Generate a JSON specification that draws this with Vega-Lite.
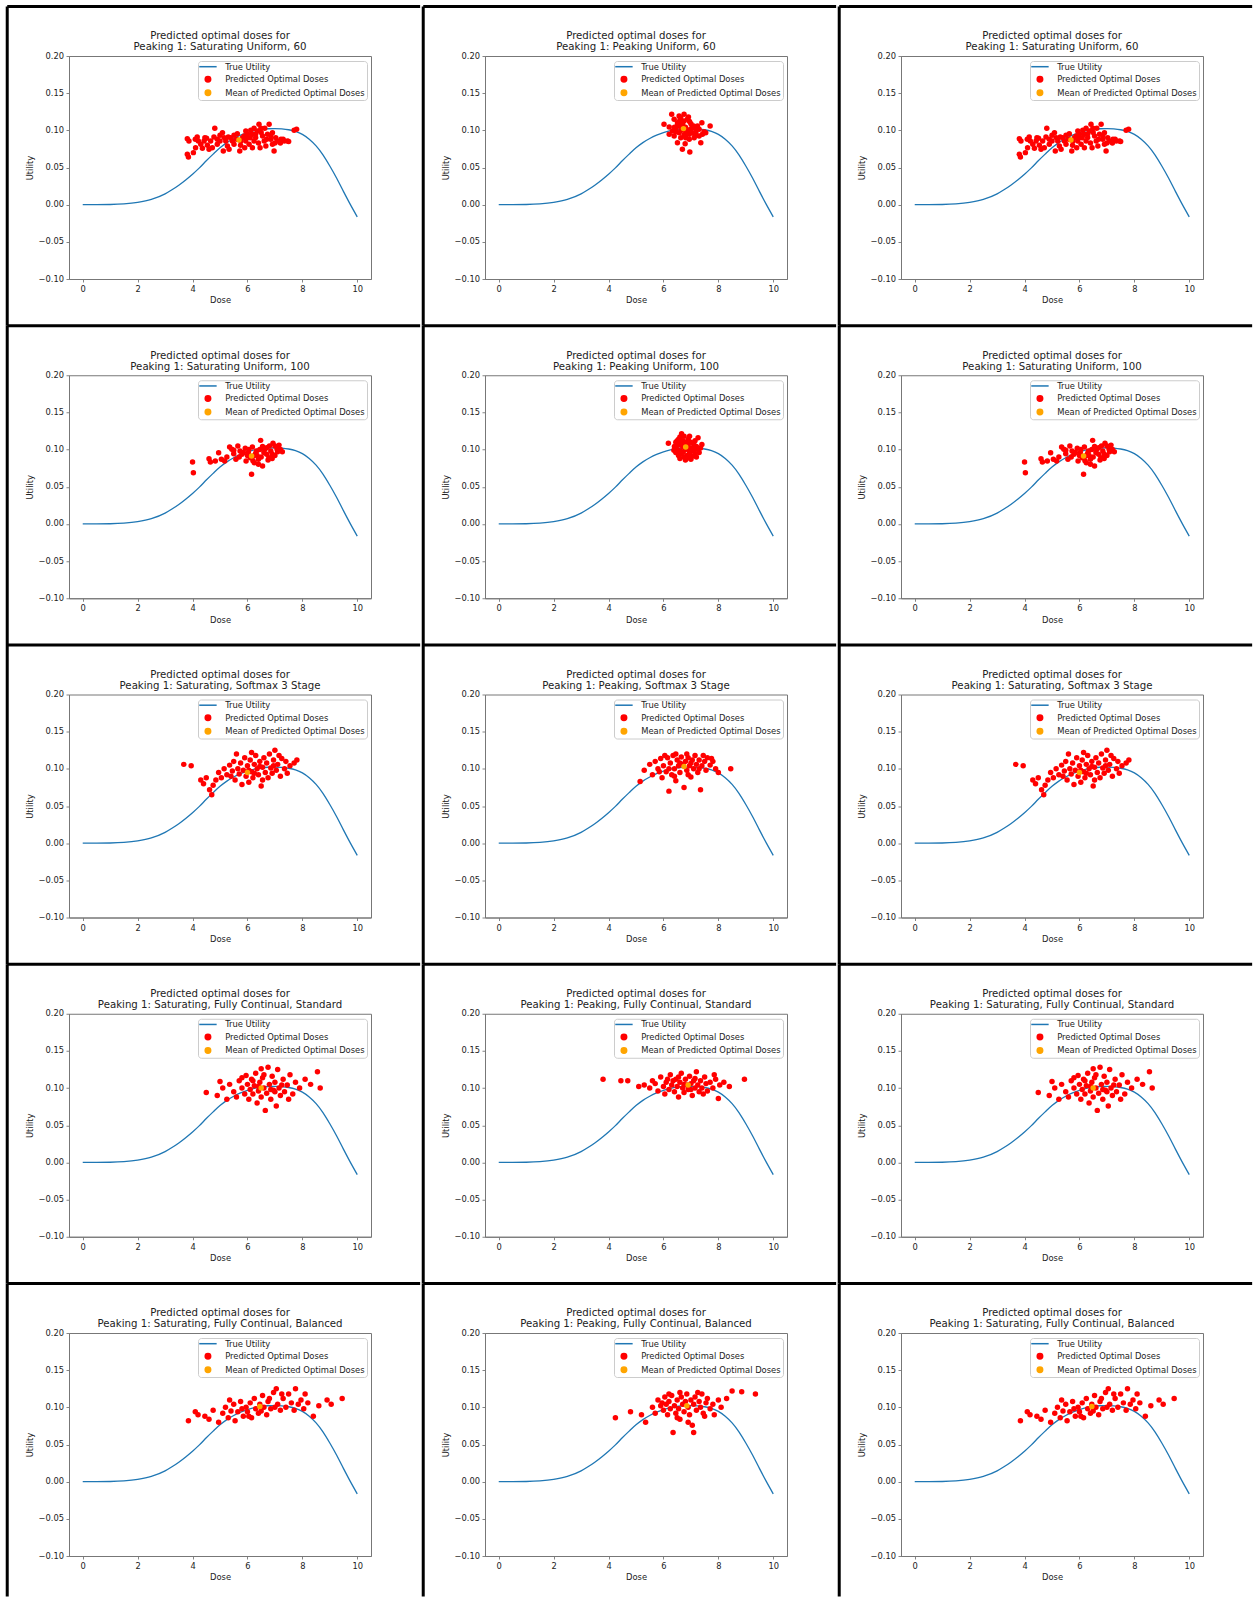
{
"$schema": "https://vega.github.io/schema/vega-lite/v6.json",
"usermeta": {"embedOptions": {"actions": false}},
"background": "white",
"padding": {"left": 5, "top": 4, "right": 0, "bottom": 0},
"columns": 3,
"spacing": {"row": 96.25, "column": 114},
"bounds": "flush",
"resolve": {"scale": {"x": "independent", "y": "independent", "color": "independent"}, "axis": {"x": "independent", "y": "independent"}, "legend": {"color": "independent"}},
"datasets": {
"curve": [{"dose":0,"util":0},{"dose":0.5,"util":0},{"dose":1,"util":0.0002},{"dose":1.5,"util":0.001},{"dose":2,"util":0.003},{"dose":2.5,"util":0.007},{"dose":3,"util":0.0145},{"dose":3.25,"util":0.02},{"dose":3.5,"util":0.0262},{"dose":3.75,"util":0.0333},{"dose":4,"util":0.041},{"dose":4.25,"util":0.0495},{"dose":4.5,"util":0.059},{"dose":4.75,"util":0.068},{"dose":5,"util":0.0765},{"dose":5.25,"util":0.0835},{"dose":5.5,"util":0.089},{"dose":5.75,"util":0.0935},{"dose":6,"util":0.097},{"dose":6.25,"util":0.0995},{"dose":6.5,"util":0.1012},{"dose":6.75,"util":0.1021},{"dose":7,"util":0.1024},{"dose":7.25,"util":0.102},{"dose":7.5,"util":0.1008},{"dose":7.75,"util":0.0985},{"dose":8,"util":0.0945},{"dose":8.25,"util":0.088},{"dose":8.5,"util":0.079},{"dose":8.75,"util":0.067},{"dose":9,"util":0.052},{"dose":9.25,"util":0.0355},{"dose":9.5,"util":0.0175},{"dose":9.75,"util":0},{"dose":10,"util":-0.0165}],
"s1": [{"dose":3.81,"util":0.0888},{"dose":3.87,"util":0.0857},{"dose":3.81,"util":0.0677},{"dose":3.85,"util":0.0642},{"dose":4.03,"util":0.07},{"dose":4.11,"util":0.0767},{"dose":4.17,"util":0.0911},{"dose":4.21,"util":0.0857},{"dose":4.3,"util":0.0812},{"dose":4.36,"util":0.0758},{"dose":4.42,"util":0.0857},{"dose":4.51,"util":0.0893},{"dose":4.54,"util":0.0798},{"dose":4.6,"util":0.0745},{"dose":4.66,"util":0.0857},{"dose":4.72,"util":0.0767},{"dose":4.81,"util":0.1027},{"dose":4.78,"util":0.0911},{"dose":4.9,"util":0.0879},{"dose":5,"util":0.0933},{"dose":5.09,"util":0.0969},{"dose":5.15,"util":0.0902},{"dose":5.21,"util":0.0857},{"dose":5.27,"util":0.0789},{"dose":5.33,"util":0.0745},{"dose":5.39,"util":0.0902},{"dose":5.45,"util":0.0857},{"dose":5.51,"util":0.0812},{"dose":5.63,"util":0.0955},{"dose":5.72,"util":0.0722},{"dose":5.76,"util":0.0857},{"dose":5.82,"util":0.0902},{"dose":5.88,"util":0.0924},{"dose":5.94,"util":0.0857},{"dose":6,"util":0.0902},{"dose":6.06,"util":0.0812},{"dose":6.12,"util":0.1},{"dose":6.18,"util":0.0946},{"dose":6.24,"util":0.0857},{"dose":6.3,"util":0.0902},{"dose":6.36,"util":0.0991},{"dose":6.42,"util":0.1081},{"dose":6.49,"util":0.1027},{"dose":6.55,"util":0.0924},{"dose":6.61,"util":0.0857},{"dose":6.67,"util":0.0789},{"dose":6.73,"util":0.0946},{"dose":6.79,"util":0.1081},{"dose":6.85,"util":0.0879},{"dose":6.91,"util":0.0812},{"dose":6.97,"util":0.0722},{"dose":7.03,"util":0.0902},{"dose":7.09,"util":0.0857},{"dose":7.22,"util":0.0879},{"dose":7.34,"util":0.0857},{"dose":7.46,"util":0.0857},{"dose":7.7,"util":0.1},{"dose":7.79,"util":0.1014},{"dose":6.91,"util":0.0969},{"dose":6.46,"util":0.0767},{"dose":6.18,"util":0.0767},{"dose":5.9,"util":0.0767},{"dose":5.12,"util":0.0722},{"dose":4.9,"util":0.0812},{"dose":5.51,"util":0.0933},{"dose":5.94,"util":0.0991},{"dose":6.24,"util":0.1027},{"dose":6.63,"util":0.1027},{"dose":5,"util":0.0857},{"dose":5.6,"util":0.088},{"dose":6.1,"util":0.09},{"dose":6.4,"util":0.083},{"dose":6.7,"util":0.088},{"dose":7.2,"util":0.083},{"dose":4.45,"util":0.09},{"dose":5.3,"util":0.091},{"dose":6,"util":0.095},{"dose":6.5,"util":0.097},{"dose":7,"util":0.083},{"dose":4.1,"util":0.088},{"dose":5.75,"util":0.08},{"dose":6.3,"util":0.095},{"dose":6.85,"util":0.093},{"dose":7.3,"util":0.088},{"dose":7.5,"util":0.085}],
"m1": [{"dose":5.69,"util":0.087}],
"s2": [{"dose":6.3,"util":0.1215},{"dose":6.57,"util":0.1193},{"dose":6.02,"util":0.1081},{"dose":6.21,"util":0.1045},{"dose":6.39,"util":0.1148},{"dose":6.51,"util":0.1103},{"dose":6.63,"util":0.117},{"dose":6.75,"util":0.1126},{"dose":6.87,"util":0.1148},{"dose":7,"util":0.109},{"dose":6.21,"util":0.0946},{"dose":6.33,"util":0.0991},{"dose":6.45,"util":0.1014},{"dose":6.57,"util":0.0969},{"dose":6.69,"util":0.1036},{"dose":6.81,"util":0.0991},{"dose":6.94,"util":0.0946},{"dose":7.06,"util":0.1036},{"dose":7.18,"util":0.0969},{"dose":7.3,"util":0.1014},{"dose":7.4,"util":0.1103},{"dose":7.42,"util":0.0946},{"dose":7.54,"util":0.0969},{"dose":7.7,"util":0.1058},{"dose":6.63,"util":0.0901},{"dose":6.81,"util":0.0901},{"dose":6.94,"util":0.0879},{"dose":7.12,"util":0.0901},{"dose":6.51,"util":0.0834},{"dose":6.79,"util":0.0821},{"dose":7.36,"util":0.0834},{"dose":6.69,"util":0.0745},{"dose":6.96,"util":0.0709},{"dose":7.3,"util":0.0924},{"dose":7.48,"util":0.0982},{"dose":6.39,"util":0.0924},{"dose":6.57,"util":0.1058},{"dose":6.75,"util":0.1215},{"dose":6.91,"util":0.1179},{"dose":7.06,"util":0.0969},{"dose":7.24,"util":0.1058},{"dose":6.5,"util":0.106},{"dose":6.6,"util":0.11},{"dose":6.7,"util":0.108},{"dose":6.8,"util":0.104},{"dose":6.9,"util":0.1},{"dose":7,"util":0.102},{"dose":6.45,"util":0.098},{"dose":6.65,"util":0.1},{"dose":6.85,"util":0.096},{"dose":7.1,"util":0.106},{"dose":7.2,"util":0.101},{"dose":6.6,"util":0.114},{"dose":6.4,"util":0.104},{"dose":6.95,"util":0.112},{"dose":7.15,"util":0.093},{"dose":6.75,"util":0.094}],
"m2": [{"dose":6.73,"util":0.1023}],
"s4": [{"dose":4,"util":0.0833},{"dose":4.03,"util":0.0689},{"dose":4.6,"util":0.0878},{"dose":4.65,"util":0.0833},{"dose":4.83,"util":0.0846},{"dose":4.95,"util":0.0958},{"dose":5.05,"util":0.0869},{"dose":5.17,"util":0.0846},{"dose":5.25,"util":0.09},{"dose":5.35,"util":0.1035},{"dose":5.43,"util":0.1003},{"dose":5.5,"util":0.0945},{"dose":5.58,"util":0.0869},{"dose":5.65,"util":0.1048},{"dose":5.73,"util":0.0981},{"dose":5.8,"util":0.0936},{"dose":5.92,"util":0.1017},{"dose":6.03,"util":0.0958},{"dose":6.1,"util":0.0891},{"dose":6.15,"util":0.0667},{"dose":6.22,"util":0.0914},{"dose":6.33,"util":0.0981},{"dose":6.4,"util":0.0869},{"dose":6.48,"util":0.1124},{"dose":6.55,"util":0.0779},{"dose":6.63,"util":0.1003},{"dose":6.7,"util":0.0936},{"dose":6.78,"util":0.0891},{"dose":6.85,"util":0.0981},{"dose":6.93,"util":0.1084},{"dose":7,"util":0.1048},{"dose":7.08,"util":0.1003},{"dose":7.27,"util":0.0972},{"dose":6.25,"util":0.0824},{"dose":5.95,"util":0.0846},{"dose":6.4,"util":0.0802},{"dose":6.7,"util":0.1026},{"dose":6.18,"util":0.1035},{"dose":6,"util":0.092},{"dose":6.3,"util":0.095},{"dose":6.5,"util":0.09},{"dose":6.6,"util":0.096},{"dose":6.9,"util":0.094},{"dose":7.1,"util":0.097},{"dose":5.7,"util":0.09},{"dose":6.2,"util":0.085},{"dose":6.45,"util":0.1},{"dose":6.75,"util":0.086},{"dose":7.2,"util":0.1},{"dose":6.05,"util":0.1},{"dose":6.35,"util":0.092},{"dose":6.9,"util":0.088},{"dose":5.85,"util":0.096},{"dose":6.55,"util":0.104},{"dose":7,"util":0.092},{"dose":5.5,"util":0.099},{"dose":6.8,"util":0.105},{"dose":7.15,"util":0.106}],
"m4": [{"dose":6.15,"util":0.0915}],
"s5": [{"dose":6.18,"util":0.1084},{"dose":6.66,"util":0.1214},{"dose":6.75,"util":0.118},{"dose":7.26,"util":0.116},{"dose":6.45,"util":0.11},{"dose":6.55,"util":0.114},{"dose":6.62,"util":0.108},{"dose":6.7,"util":0.112},{"dose":6.8,"util":0.11},{"dose":6.9,"util":0.114},{"dose":7,"util":0.11},{"dose":7.1,"util":0.108},{"dose":7.2,"util":0.104},{"dose":6.4,"util":0.104},{"dose":6.5,"util":0.1},{"dose":6.6,"util":0.098},{"dose":6.7,"util":0.104},{"dose":6.8,"util":0.1},{"dose":6.9,"util":0.106},{"dose":7,"util":0.102},{"dose":7.1,"util":0.098},{"dose":7.25,"util":0.1},{"dose":7.35,"util":0.102},{"dose":6.45,"util":0.096},{"dose":6.55,"util":0.092},{"dose":6.65,"util":0.094},{"dose":6.75,"util":0.09},{"dose":6.85,"util":0.092},{"dose":6.95,"util":0.095},{"dose":7.05,"util":0.091},{"dose":7.15,"util":0.094},{"dose":7.3,"util":0.096},{"dose":6.6,"util":0.088},{"dose":6.8,"util":0.086},{"dose":7,"util":0.087},{"dose":7.2,"util":0.09},{"dose":6.55,"util":0.106},{"dose":6.85,"util":0.108},{"dose":7.15,"util":0.112},{"dose":6.95,"util":0.118},{"dose":6.6,"util":0.117},{"dose":7.4,"util":0.107},{"dose":6.5,"util":0.112},{"dose":6.72,"util":0.097},{"dose":6.95,"util":0.099},{"dose":7.1,"util":0.103},{"dose":6.38,"util":0.099},{"dose":6.9,"util":0.089}],
"m5": [{"dose":6.81,"util":0.1035}],
"s7": [{"dose":3.68,"util":0.106},{"dose":3.95,"util":0.104},{"dose":4.3,"util":0.085},{"dose":4.4,"util":0.08},{"dose":4.5,"util":0.088},{"dose":4.62,"util":0.072},{"dose":4.7,"util":0.065},{"dose":4.75,"util":0.078},{"dose":4.85,"util":0.085},{"dose":4.95,"util":0.095},{"dose":5.05,"util":0.088},{"dose":5.15,"util":0.1},{"dose":5.25,"util":0.092},{"dose":5.35,"util":0.105},{"dose":5.45,"util":0.097},{"dose":5.5,"util":0.11},{"dose":5.55,"util":0.085},{"dose":5.65,"util":0.1},{"dose":5.7,"util":0.093},{"dose":5.75,"util":0.108},{"dose":5.85,"util":0.098},{"dose":5.9,"util":0.115},{"dose":5.95,"util":0.09},{"dose":6,"util":0.104},{"dose":6.05,"util":0.082},{"dose":6.1,"util":0.112},{"dose":6.15,"util":0.096},{"dose":6.2,"util":0.088},{"dose":6.25,"util":0.106},{"dose":6.3,"util":0.118},{"dose":6.35,"util":0.1},{"dose":6.4,"util":0.092},{"dose":6.45,"util":0.11},{"dose":6.5,"util":0.077},{"dose":6.55,"util":0.102},{"dose":6.6,"util":0.115},{"dose":6.65,"util":0.095},{"dose":6.7,"util":0.108},{"dose":6.75,"util":0.088},{"dose":6.8,"util":0.12},{"dose":6.85,"util":0.101},{"dose":6.9,"util":0.094},{"dose":6.95,"util":0.112},{"dose":7,"util":0.125},{"dose":7.05,"util":0.098},{"dose":7.1,"util":0.106},{"dose":7.2,"util":0.09},{"dose":7.25,"util":0.114},{"dose":7.35,"util":0.1},{"dose":7.45,"util":0.094},{"dose":7.55,"util":0.104},{"dose":7.7,"util":0.108},{"dose":7.8,"util":0.112},{"dose":5.6,"util":0.12},{"dose":6.15,"util":0.122},{"dose":6.55,"util":0.085},{"dose":7.15,"util":0.118},{"dose":5.8,"util":0.079},{"dose":6.05,"util":0.098},{"dose":6.45,"util":0.103},{"dose":6.95,"util":0.104},{"dose":5.4,"util":0.09},{"dose":7.4,"util":0.11},{"dose":6.25,"util":0.094}],
"m7": [{"dose":6.0,"util":0.095}],
"s8": [{"dose":5.15,"util":0.083},{"dose":5.3,"util":0.098},{"dose":5.5,"util":0.106},{"dose":5.6,"util":0.092},{"dose":5.7,"util":0.11},{"dose":5.8,"util":0.1},{"dose":5.9,"util":0.114},{"dose":5.95,"util":0.088},{"dose":6,"util":0.104},{"dose":6.1,"util":0.096},{"dose":6.15,"util":0.115},{"dose":6.2,"util":0.07},{"dose":6.25,"util":0.108},{"dose":6.3,"util":0.092},{"dose":6.35,"util":0.118},{"dose":6.4,"util":0.1},{"dose":6.45,"util":0.084},{"dose":6.5,"util":0.112},{"dose":6.55,"util":0.104},{"dose":6.6,"util":0.095},{"dose":6.65,"util":0.116},{"dose":6.7,"util":0.106},{"dose":6.75,"util":0.075},{"dose":6.8,"util":0.11},{"dose":6.85,"util":0.098},{"dose":6.9,"util":0.115},{"dose":6.95,"util":0.104},{"dose":7,"util":0.089},{"dose":7.05,"util":0.112},{"dose":7.1,"util":0.1},{"dose":7.15,"util":0.118},{"dose":7.2,"util":0.106},{"dose":7.25,"util":0.095},{"dose":7.3,"util":0.112},{"dose":7.35,"util":0.072},{"dose":7.4,"util":0.104},{"dose":7.5,"util":0.11},{"dose":7.55,"util":0.098},{"dose":7.6,"util":0.115},{"dose":7.7,"util":0.105},{"dose":7.8,"util":0.11},{"dose":7.9,"util":0.1},{"dose":8,"util":0.095},{"dose":8.45,"util":0.1},{"dose":6.05,"util":0.118},{"dose":6.45,"util":0.12},{"dose":6.85,"util":0.12},{"dose":7.45,"util":0.118},{"dose":6.2,"util":0.1},{"dose":6.6,"util":0.108},{"dose":7,"util":0.108},{"dose":7.3,"util":0.1},{"dose":6.4,"util":0.09},{"dose":6.9,"util":0.092},{"dose":5.85,"util":0.096},{"dose":7.75,"util":0.114}],
"m8": [{"dose":6.75,"util":0.103}],
"s10": [{"dose":4.5,"util":0.094},{"dose":4.9,"util":0.09},{"dose":5,"util":0.109},{"dose":5.1,"util":0.1},{"dose":5.25,"util":0.085},{"dose":5.35,"util":0.105},{"dose":5.5,"util":0.095},{"dose":5.6,"util":0.088},{"dose":5.7,"util":0.11},{"dose":5.8,"util":0.1},{"dose":5.9,"util":0.092},{"dose":5.95,"util":0.117},{"dose":6,"util":0.105},{"dose":6.05,"util":0.085},{"dose":6.1,"util":0.098},{"dose":6.15,"util":0.112},{"dose":6.2,"util":0.092},{"dose":6.25,"util":0.103},{"dose":6.3,"util":0.12},{"dose":6.35,"util":0.08},{"dose":6.4,"util":0.096},{"dose":6.45,"util":0.108},{"dose":6.5,"util":0.088},{"dose":6.55,"util":0.114},{"dose":6.6,"util":0.1},{"dose":6.65,"util":0.07},{"dose":6.7,"util":0.093},{"dose":6.75,"util":0.128},{"dose":6.8,"util":0.105},{"dose":6.85,"util":0.085},{"dose":6.9,"util":0.116},{"dose":6.95,"util":0.097},{"dose":7,"util":0.108},{"dose":7.05,"util":0.076},{"dose":7.1,"util":0.125},{"dose":7.15,"util":0.1},{"dose":7.2,"util":0.09},{"dose":7.3,"util":0.112},{"dose":7.35,"util":0.095},{"dose":7.45,"util":0.104},{"dose":7.55,"util":0.118},{"dose":7.65,"util":0.092},{"dose":7.75,"util":0.108},{"dose":7.9,"util":0.1},{"dose":8.1,"util":0.112},{"dose":8.3,"util":0.105},{"dose":8.55,"util":0.122},{"dose":8.65,"util":0.1},{"dose":6.2,"util":0.11},{"dose":6.6,"util":0.118},{"dose":7,"util":0.095},{"dose":6.4,"util":0.102},{"dose":6.85,"util":0.098},{"dose":7.25,"util":0.104},{"dose":5.8,"util":0.114},{"dose":6.5,"util":0.126},{"dose":7.5,"util":0.085}],
"m10": [{"dose":6.5,"util":0.1}],
"s11": [{"dose":3.8,"util":0.112},{"dose":4.45,"util":0.11},{"dose":4.7,"util":0.11},{"dose":5.1,"util":0.102},{"dose":5.3,"util":0.104},{"dose":5.5,"util":0.1},{"dose":5.7,"util":0.106},{"dose":5.8,"util":0.096},{"dose":5.9,"util":0.115},{"dose":6,"util":0.102},{"dose":6.05,"util":0.092},{"dose":6.1,"util":0.108},{"dose":6.2,"util":0.098},{"dose":6.25,"util":0.118},{"dose":6.3,"util":0.104},{"dose":6.4,"util":0.095},{"dose":6.45,"util":0.112},{"dose":6.5,"util":0.102},{"dose":6.55,"util":0.088},{"dose":6.6,"util":0.108},{"dose":6.65,"util":0.12},{"dose":6.7,"util":0.1},{"dose":6.75,"util":0.094},{"dose":6.8,"util":0.112},{"dose":6.85,"util":0.104},{"dose":6.9,"util":0.098},{"dose":6.95,"util":0.116},{"dose":7,"util":0.106},{"dose":7.05,"util":0.09},{"dose":7.1,"util":0.11},{"dose":7.15,"util":0.1},{"dose":7.2,"util":0.122},{"dose":7.25,"util":0.104},{"dose":7.3,"util":0.095},{"dose":7.35,"util":0.11},{"dose":7.4,"util":0.1},{"dose":7.5,"util":0.115},{"dose":7.55,"util":0.106},{"dose":7.6,"util":0.096},{"dose":7.7,"util":0.108},{"dose":7.8,"util":0.1},{"dose":7.9,"util":0.112},{"dose":8,"util":0.086},{"dose":8.05,"util":0.104},{"dose":8.2,"util":0.108},{"dose":8.4,"util":0.102},{"dose":8.95,"util":0.112},{"dose":6.35,"util":0.11},{"dose":6.75,"util":0.105},{"dose":7.15,"util":0.113},{"dose":6.15,"util":0.112},{"dose":7.45,"util":0.092},{"dose":6.55,"util":0.115},{"dose":7,"util":0.098},{"dose":5.6,"util":0.11},{"dose":7.85,"util":0.118}],
"m11": [{"dose":6.9,"util":0.104}],
"s13": [{"dose":3.85,"util":0.082},{"dose":4.1,"util":0.094},{"dose":4.2,"util":0.09},{"dose":4.45,"util":0.088},{"dose":4.6,"util":0.084},{"dose":4.75,"util":0.096},{"dose":4.95,"util":0.08},{"dose":5.1,"util":0.092},{"dose":5.2,"util":0.1},{"dose":5.3,"util":0.086},{"dose":5.4,"util":0.095},{"dose":5.5,"util":0.104},{"dose":5.55,"util":0.082},{"dose":5.65,"util":0.094},{"dose":5.75,"util":0.108},{"dose":5.85,"util":0.088},{"dose":5.95,"util":0.1},{"dose":6,"util":0.094},{"dose":6.1,"util":0.106},{"dose":6.15,"util":0.086},{"dose":6.25,"util":0.112},{"dose":6.3,"util":0.098},{"dose":6.4,"util":0.092},{"dose":6.45,"util":0.104},{"dose":6.55,"util":0.116},{"dose":6.6,"util":0.1},{"dose":6.7,"util":0.09},{"dose":6.75,"util":0.108},{"dose":6.85,"util":0.098},{"dose":6.95,"util":0.12},{"dose":7.05,"util":0.125},{"dose":7.1,"util":0.104},{"dose":7.2,"util":0.096},{"dose":7.3,"util":0.112},{"dose":7.4,"util":0.1},{"dose":7.5,"util":0.118},{"dose":7.6,"util":0.106},{"dose":7.7,"util":0.096},{"dose":7.75,"util":0.125},{"dose":7.85,"util":0.104},{"dose":7.95,"util":0.11},{"dose":8.05,"util":0.098},{"dose":8.2,"util":0.106},{"dose":8.4,"util":0.088},{"dose":8.6,"util":0.102},{"dose":8.9,"util":0.11},{"dose":9.05,"util":0.104},{"dose":9.45,"util":0.112},{"dose":6.05,"util":0.088},{"dose":6.5,"util":0.095},{"dose":7,"util":0.1},{"dose":5.8,"util":0.098},{"dose":6.8,"util":0.112},{"dose":7.25,"util":0.118},{"dose":8.1,"util":0.118},{"dose":5.35,"util":0.11}],
"m13": [{"dose":6.45,"util":0.101}],
"s14": [{"dose":4.25,"util":0.086},{"dose":4.8,"util":0.094},{"dose":5.2,"util":0.09},{"dose":5.35,"util":0.08},{"dose":5.6,"util":0.1},{"dose":5.7,"util":0.092},{"dose":5.8,"util":0.11},{"dose":5.9,"util":0.102},{"dose":6,"util":0.096},{"dose":6.05,"util":0.114},{"dose":6.1,"util":0.104},{"dose":6.15,"util":0.09},{"dose":6.2,"util":0.108},{"dose":6.25,"util":0.098},{"dose":6.3,"util":0.116},{"dose":6.35,"util":0.066},{"dose":6.4,"util":0.102},{"dose":6.45,"util":0.092},{"dose":6.5,"util":0.11},{"dose":6.55,"util":0.098},{"dose":6.6,"util":0.084},{"dose":6.65,"util":0.114},{"dose":6.7,"util":0.104},{"dose":6.75,"util":0.094},{"dose":6.8,"util":0.108},{"dose":6.85,"util":0.118},{"dose":6.9,"util":0.1},{"dose":6.95,"util":0.09},{"dose":7,"util":0.11},{"dose":7.05,"util":0.076},{"dose":7.1,"util":0.066},{"dose":7.1,"util":0.104},{"dose":7.15,"util":0.114},{"dose":7.2,"util":0.096},{"dose":7.3,"util":0.108},{"dose":7.35,"util":0.1},{"dose":7.4,"util":0.118},{"dose":7.45,"util":0.092},{"dose":7.55,"util":0.106},{"dose":7.6,"util":0.112},{"dose":7.7,"util":0.098},{"dose":7.8,"util":0.104},{"dose":7.85,"util":0.09},{"dose":8,"util":0.11},{"dose":8.1,"util":0.1},{"dose":8.3,"util":0.112},{"dose":8.5,"util":0.122},{"dose":8.85,"util":0.121},{"dose":9.35,"util":0.118},{"dose":6.2,"util":0.118},{"dose":6.6,"util":0.12},{"dose":7.25,"util":0.12},{"dose":6.5,"util":0.086},{"dose":6.9,"util":0.08},{"dose":7.5,"util":0.088},{"dose":5.95,"util":0.106}],
"m14": [{"dose":6.85,"util":0.102}],
"one": [{"k":1}]
},
"concat": [
{"title":{"text":["Predicted optimal doses for","Peaking 1: Saturating Uniform, 60"]},"width":302,"height":223,"layer":[
{"data":{"name":"curve"},"mark":{"type":"line","interpolate":"monotone","strokeWidth":1.3},"encoding":{"x":{"field":"dose","type":"quantitative","title":"Dose","scale":{"domain":[-0.5,10.5],"nice":false,"zero":false},"axis":{"values":[0,2,4,6,8,10],"format":"d"}},"y":{"field":"util","type":"quantitative","title":"Utility","scale":{"domain":[-0.1,0.2],"nice":false,"zero":false},"axis":{"values":[-0.1,-0.05,0,0.05,0.1,0.15,0.2],"format":".2f"}},"color":{"datum":"True Utility","type":"nominal","scale":{"domain":["True Utility","Predicted Optimal Doses","Mean of Predicted Optimal Doses"],"range":["#1f77b4","#ff0000","#ffa500"]},"legend":{"title":null,"encode":{"symbols":{"update":{"shape":{"signal":"datum.value === 'True Utility' ? 'M-1.45,0L1.45,0' : 'circle'"},"size":{"signal":"datum.value === 'True Utility' ? 144 : 30"},"fill":{"signal":"datum.value === 'True Utility' ? 'transparent' : datum.value === 'Predicted Optimal Doses' ? '#ff0000' : '#ffa500'"},"stroke":{"signal":"datum.value === 'True Utility' ? '#1f77b4' : 'transparent'"},"strokeWidth":{"value":1.5},"opacity":{"value":1},"fillOpacity":{"value":1},"strokeOpacity":{"value":1}}}}}}}},
{"data":{"name":"s1"},"mark":{"type":"circle","size":30,"opacity":1},"encoding":{"x":{"field":"dose","type":"quantitative","title":"Dose","scale":{"domain":[-0.5,10.5],"nice":false,"zero":false},"axis":{"values":[0,2,4,6,8,10],"format":"d"}},"y":{"field":"util","type":"quantitative","title":"Utility","scale":{"domain":[-0.1,0.2],"nice":false,"zero":false},"axis":{"values":[-0.1,-0.05,0,0.05,0.1,0.15,0.2],"format":".2f"}},"color":{"datum":"Predicted Optimal Doses","type":"nominal"}}},
{"data":{"name":"m1"},"mark":{"type":"circle","size":30,"opacity":1},"encoding":{"x":{"field":"dose","type":"quantitative","title":"Dose","scale":{"domain":[-0.5,10.5],"nice":false,"zero":false},"axis":{"values":[0,2,4,6,8,10],"format":"d"}},"y":{"field":"util","type":"quantitative","title":"Utility","scale":{"domain":[-0.1,0.2],"nice":false,"zero":false},"axis":{"values":[-0.1,-0.05,0,0.05,0.1,0.15,0.2],"format":".2f"}},"color":{"datum":"Mean of Predicted Optimal Doses","type":"nominal"}}},
{"data":{"name":"one"},"mark":{"type":"rule","color":"#000000","strokeWidth":3,"clip":false},"encoding":{"x":{"datum":-2.75,"type":"quantitative","title":"Dose","scale":{"domain":[-0.5,10.5],"nice":false,"zero":false},"axis":{"values":[0,2,4,6,8,10],"format":"d"}},"y":{"datum":0.2666,"type":"quantitative","title":"Utility","scale":{"domain":[-0.1,0.2],"nice":false,"zero":false},"axis":{"values":[-0.1,-0.05,0,0.05,0.1,0.15,0.2],"format":".2f"}},"y2":{"datum":-0.163}}},
{"data":{"name":"one"},"mark":{"type":"rule","color":"#000000","strokeWidth":3,"clip":false},"encoding":{"x":{"datum":-2.75,"type":"quantitative","title":"Dose","scale":{"domain":[-0.5,10.5],"nice":false,"zero":false},"axis":{"values":[0,2,4,6,8,10],"format":"d"}},"x2":{"datum":12.29},"y":{"datum":0.2666,"type":"quantitative","title":"Utility","scale":{"domain":[-0.1,0.2],"nice":false,"zero":false},"axis":{"values":[-0.1,-0.05,0,0.05,0.1,0.15,0.2],"format":".2f"}}}}
]},
{"title":{"text":["Predicted optimal doses for","Peaking 1: Peaking Uniform, 60"]},"width":302,"height":223,"layer":[
{"data":{"name":"curve"},"mark":{"type":"line","interpolate":"monotone","strokeWidth":1.3},"encoding":{"x":{"field":"dose","type":"quantitative","title":"Dose","scale":{"domain":[-0.5,10.5],"nice":false,"zero":false},"axis":{"values":[0,2,4,6,8,10],"format":"d"}},"y":{"field":"util","type":"quantitative","title":"Utility","scale":{"domain":[-0.1,0.2],"nice":false,"zero":false},"axis":{"values":[-0.1,-0.05,0,0.05,0.1,0.15,0.2],"format":".2f"}},"color":{"datum":"True Utility","type":"nominal","scale":{"domain":["True Utility","Predicted Optimal Doses","Mean of Predicted Optimal Doses"],"range":["#1f77b4","#ff0000","#ffa500"]},"legend":{"title":null,"encode":{"symbols":{"update":{"shape":{"signal":"datum.value === 'True Utility' ? 'M-1.45,0L1.45,0' : 'circle'"},"size":{"signal":"datum.value === 'True Utility' ? 144 : 30"},"fill":{"signal":"datum.value === 'True Utility' ? 'transparent' : datum.value === 'Predicted Optimal Doses' ? '#ff0000' : '#ffa500'"},"stroke":{"signal":"datum.value === 'True Utility' ? '#1f77b4' : 'transparent'"},"strokeWidth":{"value":1.5},"opacity":{"value":1},"fillOpacity":{"value":1},"strokeOpacity":{"value":1}}}}}}}},
{"data":{"name":"s2"},"mark":{"type":"circle","size":30,"opacity":1},"encoding":{"x":{"field":"dose","type":"quantitative","title":"Dose","scale":{"domain":[-0.5,10.5],"nice":false,"zero":false},"axis":{"values":[0,2,4,6,8,10],"format":"d"}},"y":{"field":"util","type":"quantitative","title":"Utility","scale":{"domain":[-0.1,0.2],"nice":false,"zero":false},"axis":{"values":[-0.1,-0.05,0,0.05,0.1,0.15,0.2],"format":".2f"}},"color":{"datum":"Predicted Optimal Doses","type":"nominal"}}},
{"data":{"name":"m2"},"mark":{"type":"circle","size":30,"opacity":1},"encoding":{"x":{"field":"dose","type":"quantitative","title":"Dose","scale":{"domain":[-0.5,10.5],"nice":false,"zero":false},"axis":{"values":[0,2,4,6,8,10],"format":"d"}},"y":{"field":"util","type":"quantitative","title":"Utility","scale":{"domain":[-0.1,0.2],"nice":false,"zero":false},"axis":{"values":[-0.1,-0.05,0,0.05,0.1,0.15,0.2],"format":".2f"}},"color":{"datum":"Mean of Predicted Optimal Doses","type":"nominal"}}},
{"data":{"name":"one"},"mark":{"type":"rule","color":"#000000","strokeWidth":3,"clip":false},"encoding":{"x":{"datum":-2.75,"type":"quantitative","title":"Dose","scale":{"domain":[-0.5,10.5],"nice":false,"zero":false},"axis":{"values":[0,2,4,6,8,10],"format":"d"}},"y":{"datum":0.2666,"type":"quantitative","title":"Utility","scale":{"domain":[-0.1,0.2],"nice":false,"zero":false},"axis":{"values":[-0.1,-0.05,0,0.05,0.1,0.15,0.2],"format":".2f"}},"y2":{"datum":-0.163}}},
{"data":{"name":"one"},"mark":{"type":"rule","color":"#000000","strokeWidth":3,"clip":false},"encoding":{"x":{"datum":-2.75,"type":"quantitative","title":"Dose","scale":{"domain":[-0.5,10.5],"nice":false,"zero":false},"axis":{"values":[0,2,4,6,8,10],"format":"d"}},"x2":{"datum":12.29},"y":{"datum":0.2666,"type":"quantitative","title":"Utility","scale":{"domain":[-0.1,0.2],"nice":false,"zero":false},"axis":{"values":[-0.1,-0.05,0,0.05,0.1,0.15,0.2],"format":".2f"}}}}
]},
{"title":{"text":["Predicted optimal doses for","Peaking 1: Saturating Uniform, 60"]},"width":302,"height":223,"layer":[
{"data":{"name":"curve"},"mark":{"type":"line","interpolate":"monotone","strokeWidth":1.3},"encoding":{"x":{"field":"dose","type":"quantitative","title":"Dose","scale":{"domain":[-0.5,10.5],"nice":false,"zero":false},"axis":{"values":[0,2,4,6,8,10],"format":"d"}},"y":{"field":"util","type":"quantitative","title":"Utility","scale":{"domain":[-0.1,0.2],"nice":false,"zero":false},"axis":{"values":[-0.1,-0.05,0,0.05,0.1,0.15,0.2],"format":".2f"}},"color":{"datum":"True Utility","type":"nominal","scale":{"domain":["True Utility","Predicted Optimal Doses","Mean of Predicted Optimal Doses"],"range":["#1f77b4","#ff0000","#ffa500"]},"legend":{"title":null,"encode":{"symbols":{"update":{"shape":{"signal":"datum.value === 'True Utility' ? 'M-1.45,0L1.45,0' : 'circle'"},"size":{"signal":"datum.value === 'True Utility' ? 144 : 30"},"fill":{"signal":"datum.value === 'True Utility' ? 'transparent' : datum.value === 'Predicted Optimal Doses' ? '#ff0000' : '#ffa500'"},"stroke":{"signal":"datum.value === 'True Utility' ? '#1f77b4' : 'transparent'"},"strokeWidth":{"value":1.5},"opacity":{"value":1},"fillOpacity":{"value":1},"strokeOpacity":{"value":1}}}}}}}},
{"data":{"name":"s1"},"mark":{"type":"circle","size":30,"opacity":1},"encoding":{"x":{"field":"dose","type":"quantitative","title":"Dose","scale":{"domain":[-0.5,10.5],"nice":false,"zero":false},"axis":{"values":[0,2,4,6,8,10],"format":"d"}},"y":{"field":"util","type":"quantitative","title":"Utility","scale":{"domain":[-0.1,0.2],"nice":false,"zero":false},"axis":{"values":[-0.1,-0.05,0,0.05,0.1,0.15,0.2],"format":".2f"}},"color":{"datum":"Predicted Optimal Doses","type":"nominal"}}},
{"data":{"name":"m1"},"mark":{"type":"circle","size":30,"opacity":1},"encoding":{"x":{"field":"dose","type":"quantitative","title":"Dose","scale":{"domain":[-0.5,10.5],"nice":false,"zero":false},"axis":{"values":[0,2,4,6,8,10],"format":"d"}},"y":{"field":"util","type":"quantitative","title":"Utility","scale":{"domain":[-0.1,0.2],"nice":false,"zero":false},"axis":{"values":[-0.1,-0.05,0,0.05,0.1,0.15,0.2],"format":".2f"}},"color":{"datum":"Mean of Predicted Optimal Doses","type":"nominal"}}},
{"data":{"name":"one"},"mark":{"type":"rule","color":"#000000","strokeWidth":3,"clip":false},"encoding":{"x":{"datum":-2.75,"type":"quantitative","title":"Dose","scale":{"domain":[-0.5,10.5],"nice":false,"zero":false},"axis":{"values":[0,2,4,6,8,10],"format":"d"}},"y":{"datum":0.2666,"type":"quantitative","title":"Utility","scale":{"domain":[-0.1,0.2],"nice":false,"zero":false},"axis":{"values":[-0.1,-0.05,0,0.05,0.1,0.15,0.2],"format":".2f"}},"y2":{"datum":-0.163}}},
{"data":{"name":"one"},"mark":{"type":"rule","color":"#000000","strokeWidth":3,"clip":false},"encoding":{"x":{"datum":-2.75,"type":"quantitative","title":"Dose","scale":{"domain":[-0.5,10.5],"nice":false,"zero":false},"axis":{"values":[0,2,4,6,8,10],"format":"d"}},"x2":{"datum":12.29},"y":{"datum":0.2666,"type":"quantitative","title":"Utility","scale":{"domain":[-0.1,0.2],"nice":false,"zero":false},"axis":{"values":[-0.1,-0.05,0,0.05,0.1,0.15,0.2],"format":".2f"}}}}
]},
{"title":{"text":["Predicted optimal doses for","Peaking 1: Saturating Uniform, 100"]},"width":302,"height":223,"layer":[
{"data":{"name":"curve"},"mark":{"type":"line","interpolate":"monotone","strokeWidth":1.3},"encoding":{"x":{"field":"dose","type":"quantitative","title":"Dose","scale":{"domain":[-0.5,10.5],"nice":false,"zero":false},"axis":{"values":[0,2,4,6,8,10],"format":"d"}},"y":{"field":"util","type":"quantitative","title":"Utility","scale":{"domain":[-0.1,0.2],"nice":false,"zero":false},"axis":{"values":[-0.1,-0.05,0,0.05,0.1,0.15,0.2],"format":".2f"}},"color":{"datum":"True Utility","type":"nominal","scale":{"domain":["True Utility","Predicted Optimal Doses","Mean of Predicted Optimal Doses"],"range":["#1f77b4","#ff0000","#ffa500"]},"legend":{"title":null,"encode":{"symbols":{"update":{"shape":{"signal":"datum.value === 'True Utility' ? 'M-1.45,0L1.45,0' : 'circle'"},"size":{"signal":"datum.value === 'True Utility' ? 144 : 30"},"fill":{"signal":"datum.value === 'True Utility' ? 'transparent' : datum.value === 'Predicted Optimal Doses' ? '#ff0000' : '#ffa500'"},"stroke":{"signal":"datum.value === 'True Utility' ? '#1f77b4' : 'transparent'"},"strokeWidth":{"value":1.5},"opacity":{"value":1},"fillOpacity":{"value":1},"strokeOpacity":{"value":1}}}}}}}},
{"data":{"name":"s4"},"mark":{"type":"circle","size":30,"opacity":1},"encoding":{"x":{"field":"dose","type":"quantitative","title":"Dose","scale":{"domain":[-0.5,10.5],"nice":false,"zero":false},"axis":{"values":[0,2,4,6,8,10],"format":"d"}},"y":{"field":"util","type":"quantitative","title":"Utility","scale":{"domain":[-0.1,0.2],"nice":false,"zero":false},"axis":{"values":[-0.1,-0.05,0,0.05,0.1,0.15,0.2],"format":".2f"}},"color":{"datum":"Predicted Optimal Doses","type":"nominal"}}},
{"data":{"name":"m4"},"mark":{"type":"circle","size":30,"opacity":1},"encoding":{"x":{"field":"dose","type":"quantitative","title":"Dose","scale":{"domain":[-0.5,10.5],"nice":false,"zero":false},"axis":{"values":[0,2,4,6,8,10],"format":"d"}},"y":{"field":"util","type":"quantitative","title":"Utility","scale":{"domain":[-0.1,0.2],"nice":false,"zero":false},"axis":{"values":[-0.1,-0.05,0,0.05,0.1,0.15,0.2],"format":".2f"}},"color":{"datum":"Mean of Predicted Optimal Doses","type":"nominal"}}},
{"data":{"name":"one"},"mark":{"type":"rule","color":"#000000","strokeWidth":3,"clip":false},"encoding":{"x":{"datum":-2.75,"type":"quantitative","title":"Dose","scale":{"domain":[-0.5,10.5],"nice":false,"zero":false},"axis":{"values":[0,2,4,6,8,10],"format":"d"}},"y":{"datum":0.2666,"type":"quantitative","title":"Utility","scale":{"domain":[-0.1,0.2],"nice":false,"zero":false},"axis":{"values":[-0.1,-0.05,0,0.05,0.1,0.15,0.2],"format":".2f"}},"y2":{"datum":-0.163}}},
{"data":{"name":"one"},"mark":{"type":"rule","color":"#000000","strokeWidth":3,"clip":false},"encoding":{"x":{"datum":-2.75,"type":"quantitative","title":"Dose","scale":{"domain":[-0.5,10.5],"nice":false,"zero":false},"axis":{"values":[0,2,4,6,8,10],"format":"d"}},"x2":{"datum":12.29},"y":{"datum":0.2666,"type":"quantitative","title":"Utility","scale":{"domain":[-0.1,0.2],"nice":false,"zero":false},"axis":{"values":[-0.1,-0.05,0,0.05,0.1,0.15,0.2],"format":".2f"}}}}
]},
{"title":{"text":["Predicted optimal doses for","Peaking 1: Peaking Uniform, 100"]},"width":302,"height":223,"layer":[
{"data":{"name":"curve"},"mark":{"type":"line","interpolate":"monotone","strokeWidth":1.3},"encoding":{"x":{"field":"dose","type":"quantitative","title":"Dose","scale":{"domain":[-0.5,10.5],"nice":false,"zero":false},"axis":{"values":[0,2,4,6,8,10],"format":"d"}},"y":{"field":"util","type":"quantitative","title":"Utility","scale":{"domain":[-0.1,0.2],"nice":false,"zero":false},"axis":{"values":[-0.1,-0.05,0,0.05,0.1,0.15,0.2],"format":".2f"}},"color":{"datum":"True Utility","type":"nominal","scale":{"domain":["True Utility","Predicted Optimal Doses","Mean of Predicted Optimal Doses"],"range":["#1f77b4","#ff0000","#ffa500"]},"legend":{"title":null,"encode":{"symbols":{"update":{"shape":{"signal":"datum.value === 'True Utility' ? 'M-1.45,0L1.45,0' : 'circle'"},"size":{"signal":"datum.value === 'True Utility' ? 144 : 30"},"fill":{"signal":"datum.value === 'True Utility' ? 'transparent' : datum.value === 'Predicted Optimal Doses' ? '#ff0000' : '#ffa500'"},"stroke":{"signal":"datum.value === 'True Utility' ? '#1f77b4' : 'transparent'"},"strokeWidth":{"value":1.5},"opacity":{"value":1},"fillOpacity":{"value":1},"strokeOpacity":{"value":1}}}}}}}},
{"data":{"name":"s5"},"mark":{"type":"circle","size":30,"opacity":1},"encoding":{"x":{"field":"dose","type":"quantitative","title":"Dose","scale":{"domain":[-0.5,10.5],"nice":false,"zero":false},"axis":{"values":[0,2,4,6,8,10],"format":"d"}},"y":{"field":"util","type":"quantitative","title":"Utility","scale":{"domain":[-0.1,0.2],"nice":false,"zero":false},"axis":{"values":[-0.1,-0.05,0,0.05,0.1,0.15,0.2],"format":".2f"}},"color":{"datum":"Predicted Optimal Doses","type":"nominal"}}},
{"data":{"name":"m5"},"mark":{"type":"circle","size":30,"opacity":1},"encoding":{"x":{"field":"dose","type":"quantitative","title":"Dose","scale":{"domain":[-0.5,10.5],"nice":false,"zero":false},"axis":{"values":[0,2,4,6,8,10],"format":"d"}},"y":{"field":"util","type":"quantitative","title":"Utility","scale":{"domain":[-0.1,0.2],"nice":false,"zero":false},"axis":{"values":[-0.1,-0.05,0,0.05,0.1,0.15,0.2],"format":".2f"}},"color":{"datum":"Mean of Predicted Optimal Doses","type":"nominal"}}},
{"data":{"name":"one"},"mark":{"type":"rule","color":"#000000","strokeWidth":3,"clip":false},"encoding":{"x":{"datum":-2.75,"type":"quantitative","title":"Dose","scale":{"domain":[-0.5,10.5],"nice":false,"zero":false},"axis":{"values":[0,2,4,6,8,10],"format":"d"}},"y":{"datum":0.2666,"type":"quantitative","title":"Utility","scale":{"domain":[-0.1,0.2],"nice":false,"zero":false},"axis":{"values":[-0.1,-0.05,0,0.05,0.1,0.15,0.2],"format":".2f"}},"y2":{"datum":-0.163}}},
{"data":{"name":"one"},"mark":{"type":"rule","color":"#000000","strokeWidth":3,"clip":false},"encoding":{"x":{"datum":-2.75,"type":"quantitative","title":"Dose","scale":{"domain":[-0.5,10.5],"nice":false,"zero":false},"axis":{"values":[0,2,4,6,8,10],"format":"d"}},"x2":{"datum":12.29},"y":{"datum":0.2666,"type":"quantitative","title":"Utility","scale":{"domain":[-0.1,0.2],"nice":false,"zero":false},"axis":{"values":[-0.1,-0.05,0,0.05,0.1,0.15,0.2],"format":".2f"}}}}
]},
{"title":{"text":["Predicted optimal doses for","Peaking 1: Saturating Uniform, 100"]},"width":302,"height":223,"layer":[
{"data":{"name":"curve"},"mark":{"type":"line","interpolate":"monotone","strokeWidth":1.3},"encoding":{"x":{"field":"dose","type":"quantitative","title":"Dose","scale":{"domain":[-0.5,10.5],"nice":false,"zero":false},"axis":{"values":[0,2,4,6,8,10],"format":"d"}},"y":{"field":"util","type":"quantitative","title":"Utility","scale":{"domain":[-0.1,0.2],"nice":false,"zero":false},"axis":{"values":[-0.1,-0.05,0,0.05,0.1,0.15,0.2],"format":".2f"}},"color":{"datum":"True Utility","type":"nominal","scale":{"domain":["True Utility","Predicted Optimal Doses","Mean of Predicted Optimal Doses"],"range":["#1f77b4","#ff0000","#ffa500"]},"legend":{"title":null,"encode":{"symbols":{"update":{"shape":{"signal":"datum.value === 'True Utility' ? 'M-1.45,0L1.45,0' : 'circle'"},"size":{"signal":"datum.value === 'True Utility' ? 144 : 30"},"fill":{"signal":"datum.value === 'True Utility' ? 'transparent' : datum.value === 'Predicted Optimal Doses' ? '#ff0000' : '#ffa500'"},"stroke":{"signal":"datum.value === 'True Utility' ? '#1f77b4' : 'transparent'"},"strokeWidth":{"value":1.5},"opacity":{"value":1},"fillOpacity":{"value":1},"strokeOpacity":{"value":1}}}}}}}},
{"data":{"name":"s4"},"mark":{"type":"circle","size":30,"opacity":1},"encoding":{"x":{"field":"dose","type":"quantitative","title":"Dose","scale":{"domain":[-0.5,10.5],"nice":false,"zero":false},"axis":{"values":[0,2,4,6,8,10],"format":"d"}},"y":{"field":"util","type":"quantitative","title":"Utility","scale":{"domain":[-0.1,0.2],"nice":false,"zero":false},"axis":{"values":[-0.1,-0.05,0,0.05,0.1,0.15,0.2],"format":".2f"}},"color":{"datum":"Predicted Optimal Doses","type":"nominal"}}},
{"data":{"name":"m4"},"mark":{"type":"circle","size":30,"opacity":1},"encoding":{"x":{"field":"dose","type":"quantitative","title":"Dose","scale":{"domain":[-0.5,10.5],"nice":false,"zero":false},"axis":{"values":[0,2,4,6,8,10],"format":"d"}},"y":{"field":"util","type":"quantitative","title":"Utility","scale":{"domain":[-0.1,0.2],"nice":false,"zero":false},"axis":{"values":[-0.1,-0.05,0,0.05,0.1,0.15,0.2],"format":".2f"}},"color":{"datum":"Mean of Predicted Optimal Doses","type":"nominal"}}},
{"data":{"name":"one"},"mark":{"type":"rule","color":"#000000","strokeWidth":3,"clip":false},"encoding":{"x":{"datum":-2.75,"type":"quantitative","title":"Dose","scale":{"domain":[-0.5,10.5],"nice":false,"zero":false},"axis":{"values":[0,2,4,6,8,10],"format":"d"}},"y":{"datum":0.2666,"type":"quantitative","title":"Utility","scale":{"domain":[-0.1,0.2],"nice":false,"zero":false},"axis":{"values":[-0.1,-0.05,0,0.05,0.1,0.15,0.2],"format":".2f"}},"y2":{"datum":-0.163}}},
{"data":{"name":"one"},"mark":{"type":"rule","color":"#000000","strokeWidth":3,"clip":false},"encoding":{"x":{"datum":-2.75,"type":"quantitative","title":"Dose","scale":{"domain":[-0.5,10.5],"nice":false,"zero":false},"axis":{"values":[0,2,4,6,8,10],"format":"d"}},"x2":{"datum":12.29},"y":{"datum":0.2666,"type":"quantitative","title":"Utility","scale":{"domain":[-0.1,0.2],"nice":false,"zero":false},"axis":{"values":[-0.1,-0.05,0,0.05,0.1,0.15,0.2],"format":".2f"}}}}
]},
{"title":{"text":["Predicted optimal doses for","Peaking 1: Saturating, Softmax 3 Stage"]},"width":302,"height":223,"layer":[
{"data":{"name":"curve"},"mark":{"type":"line","interpolate":"monotone","strokeWidth":1.3},"encoding":{"x":{"field":"dose","type":"quantitative","title":"Dose","scale":{"domain":[-0.5,10.5],"nice":false,"zero":false},"axis":{"values":[0,2,4,6,8,10],"format":"d"}},"y":{"field":"util","type":"quantitative","title":"Utility","scale":{"domain":[-0.1,0.2],"nice":false,"zero":false},"axis":{"values":[-0.1,-0.05,0,0.05,0.1,0.15,0.2],"format":".2f"}},"color":{"datum":"True Utility","type":"nominal","scale":{"domain":["True Utility","Predicted Optimal Doses","Mean of Predicted Optimal Doses"],"range":["#1f77b4","#ff0000","#ffa500"]},"legend":{"title":null,"encode":{"symbols":{"update":{"shape":{"signal":"datum.value === 'True Utility' ? 'M-1.45,0L1.45,0' : 'circle'"},"size":{"signal":"datum.value === 'True Utility' ? 144 : 30"},"fill":{"signal":"datum.value === 'True Utility' ? 'transparent' : datum.value === 'Predicted Optimal Doses' ? '#ff0000' : '#ffa500'"},"stroke":{"signal":"datum.value === 'True Utility' ? '#1f77b4' : 'transparent'"},"strokeWidth":{"value":1.5},"opacity":{"value":1},"fillOpacity":{"value":1},"strokeOpacity":{"value":1}}}}}}}},
{"data":{"name":"s7"},"mark":{"type":"circle","size":30,"opacity":1},"encoding":{"x":{"field":"dose","type":"quantitative","title":"Dose","scale":{"domain":[-0.5,10.5],"nice":false,"zero":false},"axis":{"values":[0,2,4,6,8,10],"format":"d"}},"y":{"field":"util","type":"quantitative","title":"Utility","scale":{"domain":[-0.1,0.2],"nice":false,"zero":false},"axis":{"values":[-0.1,-0.05,0,0.05,0.1,0.15,0.2],"format":".2f"}},"color":{"datum":"Predicted Optimal Doses","type":"nominal"}}},
{"data":{"name":"m7"},"mark":{"type":"circle","size":30,"opacity":1},"encoding":{"x":{"field":"dose","type":"quantitative","title":"Dose","scale":{"domain":[-0.5,10.5],"nice":false,"zero":false},"axis":{"values":[0,2,4,6,8,10],"format":"d"}},"y":{"field":"util","type":"quantitative","title":"Utility","scale":{"domain":[-0.1,0.2],"nice":false,"zero":false},"axis":{"values":[-0.1,-0.05,0,0.05,0.1,0.15,0.2],"format":".2f"}},"color":{"datum":"Mean of Predicted Optimal Doses","type":"nominal"}}},
{"data":{"name":"one"},"mark":{"type":"rule","color":"#000000","strokeWidth":3,"clip":false},"encoding":{"x":{"datum":-2.75,"type":"quantitative","title":"Dose","scale":{"domain":[-0.5,10.5],"nice":false,"zero":false},"axis":{"values":[0,2,4,6,8,10],"format":"d"}},"y":{"datum":0.2666,"type":"quantitative","title":"Utility","scale":{"domain":[-0.1,0.2],"nice":false,"zero":false},"axis":{"values":[-0.1,-0.05,0,0.05,0.1,0.15,0.2],"format":".2f"}},"y2":{"datum":-0.163}}},
{"data":{"name":"one"},"mark":{"type":"rule","color":"#000000","strokeWidth":3,"clip":false},"encoding":{"x":{"datum":-2.75,"type":"quantitative","title":"Dose","scale":{"domain":[-0.5,10.5],"nice":false,"zero":false},"axis":{"values":[0,2,4,6,8,10],"format":"d"}},"x2":{"datum":12.29},"y":{"datum":0.2666,"type":"quantitative","title":"Utility","scale":{"domain":[-0.1,0.2],"nice":false,"zero":false},"axis":{"values":[-0.1,-0.05,0,0.05,0.1,0.15,0.2],"format":".2f"}}}}
]},
{"title":{"text":["Predicted optimal doses for","Peaking 1: Peaking, Softmax 3 Stage"]},"width":302,"height":223,"layer":[
{"data":{"name":"curve"},"mark":{"type":"line","interpolate":"monotone","strokeWidth":1.3},"encoding":{"x":{"field":"dose","type":"quantitative","title":"Dose","scale":{"domain":[-0.5,10.5],"nice":false,"zero":false},"axis":{"values":[0,2,4,6,8,10],"format":"d"}},"y":{"field":"util","type":"quantitative","title":"Utility","scale":{"domain":[-0.1,0.2],"nice":false,"zero":false},"axis":{"values":[-0.1,-0.05,0,0.05,0.1,0.15,0.2],"format":".2f"}},"color":{"datum":"True Utility","type":"nominal","scale":{"domain":["True Utility","Predicted Optimal Doses","Mean of Predicted Optimal Doses"],"range":["#1f77b4","#ff0000","#ffa500"]},"legend":{"title":null,"encode":{"symbols":{"update":{"shape":{"signal":"datum.value === 'True Utility' ? 'M-1.45,0L1.45,0' : 'circle'"},"size":{"signal":"datum.value === 'True Utility' ? 144 : 30"},"fill":{"signal":"datum.value === 'True Utility' ? 'transparent' : datum.value === 'Predicted Optimal Doses' ? '#ff0000' : '#ffa500'"},"stroke":{"signal":"datum.value === 'True Utility' ? '#1f77b4' : 'transparent'"},"strokeWidth":{"value":1.5},"opacity":{"value":1},"fillOpacity":{"value":1},"strokeOpacity":{"value":1}}}}}}}},
{"data":{"name":"s8"},"mark":{"type":"circle","size":30,"opacity":1},"encoding":{"x":{"field":"dose","type":"quantitative","title":"Dose","scale":{"domain":[-0.5,10.5],"nice":false,"zero":false},"axis":{"values":[0,2,4,6,8,10],"format":"d"}},"y":{"field":"util","type":"quantitative","title":"Utility","scale":{"domain":[-0.1,0.2],"nice":false,"zero":false},"axis":{"values":[-0.1,-0.05,0,0.05,0.1,0.15,0.2],"format":".2f"}},"color":{"datum":"Predicted Optimal Doses","type":"nominal"}}},
{"data":{"name":"m8"},"mark":{"type":"circle","size":30,"opacity":1},"encoding":{"x":{"field":"dose","type":"quantitative","title":"Dose","scale":{"domain":[-0.5,10.5],"nice":false,"zero":false},"axis":{"values":[0,2,4,6,8,10],"format":"d"}},"y":{"field":"util","type":"quantitative","title":"Utility","scale":{"domain":[-0.1,0.2],"nice":false,"zero":false},"axis":{"values":[-0.1,-0.05,0,0.05,0.1,0.15,0.2],"format":".2f"}},"color":{"datum":"Mean of Predicted Optimal Doses","type":"nominal"}}},
{"data":{"name":"one"},"mark":{"type":"rule","color":"#000000","strokeWidth":3,"clip":false},"encoding":{"x":{"datum":-2.75,"type":"quantitative","title":"Dose","scale":{"domain":[-0.5,10.5],"nice":false,"zero":false},"axis":{"values":[0,2,4,6,8,10],"format":"d"}},"y":{"datum":0.2666,"type":"quantitative","title":"Utility","scale":{"domain":[-0.1,0.2],"nice":false,"zero":false},"axis":{"values":[-0.1,-0.05,0,0.05,0.1,0.15,0.2],"format":".2f"}},"y2":{"datum":-0.163}}},
{"data":{"name":"one"},"mark":{"type":"rule","color":"#000000","strokeWidth":3,"clip":false},"encoding":{"x":{"datum":-2.75,"type":"quantitative","title":"Dose","scale":{"domain":[-0.5,10.5],"nice":false,"zero":false},"axis":{"values":[0,2,4,6,8,10],"format":"d"}},"x2":{"datum":12.29},"y":{"datum":0.2666,"type":"quantitative","title":"Utility","scale":{"domain":[-0.1,0.2],"nice":false,"zero":false},"axis":{"values":[-0.1,-0.05,0,0.05,0.1,0.15,0.2],"format":".2f"}}}}
]},
{"title":{"text":["Predicted optimal doses for","Peaking 1: Saturating, Softmax 3 Stage"]},"width":302,"height":223,"layer":[
{"data":{"name":"curve"},"mark":{"type":"line","interpolate":"monotone","strokeWidth":1.3},"encoding":{"x":{"field":"dose","type":"quantitative","title":"Dose","scale":{"domain":[-0.5,10.5],"nice":false,"zero":false},"axis":{"values":[0,2,4,6,8,10],"format":"d"}},"y":{"field":"util","type":"quantitative","title":"Utility","scale":{"domain":[-0.1,0.2],"nice":false,"zero":false},"axis":{"values":[-0.1,-0.05,0,0.05,0.1,0.15,0.2],"format":".2f"}},"color":{"datum":"True Utility","type":"nominal","scale":{"domain":["True Utility","Predicted Optimal Doses","Mean of Predicted Optimal Doses"],"range":["#1f77b4","#ff0000","#ffa500"]},"legend":{"title":null,"encode":{"symbols":{"update":{"shape":{"signal":"datum.value === 'True Utility' ? 'M-1.45,0L1.45,0' : 'circle'"},"size":{"signal":"datum.value === 'True Utility' ? 144 : 30"},"fill":{"signal":"datum.value === 'True Utility' ? 'transparent' : datum.value === 'Predicted Optimal Doses' ? '#ff0000' : '#ffa500'"},"stroke":{"signal":"datum.value === 'True Utility' ? '#1f77b4' : 'transparent'"},"strokeWidth":{"value":1.5},"opacity":{"value":1},"fillOpacity":{"value":1},"strokeOpacity":{"value":1}}}}}}}},
{"data":{"name":"s7"},"mark":{"type":"circle","size":30,"opacity":1},"encoding":{"x":{"field":"dose","type":"quantitative","title":"Dose","scale":{"domain":[-0.5,10.5],"nice":false,"zero":false},"axis":{"values":[0,2,4,6,8,10],"format":"d"}},"y":{"field":"util","type":"quantitative","title":"Utility","scale":{"domain":[-0.1,0.2],"nice":false,"zero":false},"axis":{"values":[-0.1,-0.05,0,0.05,0.1,0.15,0.2],"format":".2f"}},"color":{"datum":"Predicted Optimal Doses","type":"nominal"}}},
{"data":{"name":"m7"},"mark":{"type":"circle","size":30,"opacity":1},"encoding":{"x":{"field":"dose","type":"quantitative","title":"Dose","scale":{"domain":[-0.5,10.5],"nice":false,"zero":false},"axis":{"values":[0,2,4,6,8,10],"format":"d"}},"y":{"field":"util","type":"quantitative","title":"Utility","scale":{"domain":[-0.1,0.2],"nice":false,"zero":false},"axis":{"values":[-0.1,-0.05,0,0.05,0.1,0.15,0.2],"format":".2f"}},"color":{"datum":"Mean of Predicted Optimal Doses","type":"nominal"}}},
{"data":{"name":"one"},"mark":{"type":"rule","color":"#000000","strokeWidth":3,"clip":false},"encoding":{"x":{"datum":-2.75,"type":"quantitative","title":"Dose","scale":{"domain":[-0.5,10.5],"nice":false,"zero":false},"axis":{"values":[0,2,4,6,8,10],"format":"d"}},"y":{"datum":0.2666,"type":"quantitative","title":"Utility","scale":{"domain":[-0.1,0.2],"nice":false,"zero":false},"axis":{"values":[-0.1,-0.05,0,0.05,0.1,0.15,0.2],"format":".2f"}},"y2":{"datum":-0.163}}},
{"data":{"name":"one"},"mark":{"type":"rule","color":"#000000","strokeWidth":3,"clip":false},"encoding":{"x":{"datum":-2.75,"type":"quantitative","title":"Dose","scale":{"domain":[-0.5,10.5],"nice":false,"zero":false},"axis":{"values":[0,2,4,6,8,10],"format":"d"}},"x2":{"datum":12.29},"y":{"datum":0.2666,"type":"quantitative","title":"Utility","scale":{"domain":[-0.1,0.2],"nice":false,"zero":false},"axis":{"values":[-0.1,-0.05,0,0.05,0.1,0.15,0.2],"format":".2f"}}}}
]},
{"title":{"text":["Predicted optimal doses for","Peaking 1: Saturating, Fully Continual, Standard"]},"width":302,"height":223,"layer":[
{"data":{"name":"curve"},"mark":{"type":"line","interpolate":"monotone","strokeWidth":1.3},"encoding":{"x":{"field":"dose","type":"quantitative","title":"Dose","scale":{"domain":[-0.5,10.5],"nice":false,"zero":false},"axis":{"values":[0,2,4,6,8,10],"format":"d"}},"y":{"field":"util","type":"quantitative","title":"Utility","scale":{"domain":[-0.1,0.2],"nice":false,"zero":false},"axis":{"values":[-0.1,-0.05,0,0.05,0.1,0.15,0.2],"format":".2f"}},"color":{"datum":"True Utility","type":"nominal","scale":{"domain":["True Utility","Predicted Optimal Doses","Mean of Predicted Optimal Doses"],"range":["#1f77b4","#ff0000","#ffa500"]},"legend":{"title":null,"encode":{"symbols":{"update":{"shape":{"signal":"datum.value === 'True Utility' ? 'M-1.45,0L1.45,0' : 'circle'"},"size":{"signal":"datum.value === 'True Utility' ? 144 : 30"},"fill":{"signal":"datum.value === 'True Utility' ? 'transparent' : datum.value === 'Predicted Optimal Doses' ? '#ff0000' : '#ffa500'"},"stroke":{"signal":"datum.value === 'True Utility' ? '#1f77b4' : 'transparent'"},"strokeWidth":{"value":1.5},"opacity":{"value":1},"fillOpacity":{"value":1},"strokeOpacity":{"value":1}}}}}}}},
{"data":{"name":"s10"},"mark":{"type":"circle","size":30,"opacity":1},"encoding":{"x":{"field":"dose","type":"quantitative","title":"Dose","scale":{"domain":[-0.5,10.5],"nice":false,"zero":false},"axis":{"values":[0,2,4,6,8,10],"format":"d"}},"y":{"field":"util","type":"quantitative","title":"Utility","scale":{"domain":[-0.1,0.2],"nice":false,"zero":false},"axis":{"values":[-0.1,-0.05,0,0.05,0.1,0.15,0.2],"format":".2f"}},"color":{"datum":"Predicted Optimal Doses","type":"nominal"}}},
{"data":{"name":"m10"},"mark":{"type":"circle","size":30,"opacity":1},"encoding":{"x":{"field":"dose","type":"quantitative","title":"Dose","scale":{"domain":[-0.5,10.5],"nice":false,"zero":false},"axis":{"values":[0,2,4,6,8,10],"format":"d"}},"y":{"field":"util","type":"quantitative","title":"Utility","scale":{"domain":[-0.1,0.2],"nice":false,"zero":false},"axis":{"values":[-0.1,-0.05,0,0.05,0.1,0.15,0.2],"format":".2f"}},"color":{"datum":"Mean of Predicted Optimal Doses","type":"nominal"}}},
{"data":{"name":"one"},"mark":{"type":"rule","color":"#000000","strokeWidth":3,"clip":false},"encoding":{"x":{"datum":-2.75,"type":"quantitative","title":"Dose","scale":{"domain":[-0.5,10.5],"nice":false,"zero":false},"axis":{"values":[0,2,4,6,8,10],"format":"d"}},"y":{"datum":0.2666,"type":"quantitative","title":"Utility","scale":{"domain":[-0.1,0.2],"nice":false,"zero":false},"axis":{"values":[-0.1,-0.05,0,0.05,0.1,0.15,0.2],"format":".2f"}},"y2":{"datum":-0.163}}},
{"data":{"name":"one"},"mark":{"type":"rule","color":"#000000","strokeWidth":3,"clip":false},"encoding":{"x":{"datum":-2.75,"type":"quantitative","title":"Dose","scale":{"domain":[-0.5,10.5],"nice":false,"zero":false},"axis":{"values":[0,2,4,6,8,10],"format":"d"}},"x2":{"datum":12.29},"y":{"datum":0.2666,"type":"quantitative","title":"Utility","scale":{"domain":[-0.1,0.2],"nice":false,"zero":false},"axis":{"values":[-0.1,-0.05,0,0.05,0.1,0.15,0.2],"format":".2f"}}}}
]},
{"title":{"text":["Predicted optimal doses for","Peaking 1: Peaking, Fully Continual, Standard"]},"width":302,"height":223,"layer":[
{"data":{"name":"curve"},"mark":{"type":"line","interpolate":"monotone","strokeWidth":1.3},"encoding":{"x":{"field":"dose","type":"quantitative","title":"Dose","scale":{"domain":[-0.5,10.5],"nice":false,"zero":false},"axis":{"values":[0,2,4,6,8,10],"format":"d"}},"y":{"field":"util","type":"quantitative","title":"Utility","scale":{"domain":[-0.1,0.2],"nice":false,"zero":false},"axis":{"values":[-0.1,-0.05,0,0.05,0.1,0.15,0.2],"format":".2f"}},"color":{"datum":"True Utility","type":"nominal","scale":{"domain":["True Utility","Predicted Optimal Doses","Mean of Predicted Optimal Doses"],"range":["#1f77b4","#ff0000","#ffa500"]},"legend":{"title":null,"encode":{"symbols":{"update":{"shape":{"signal":"datum.value === 'True Utility' ? 'M-1.45,0L1.45,0' : 'circle'"},"size":{"signal":"datum.value === 'True Utility' ? 144 : 30"},"fill":{"signal":"datum.value === 'True Utility' ? 'transparent' : datum.value === 'Predicted Optimal Doses' ? '#ff0000' : '#ffa500'"},"stroke":{"signal":"datum.value === 'True Utility' ? '#1f77b4' : 'transparent'"},"strokeWidth":{"value":1.5},"opacity":{"value":1},"fillOpacity":{"value":1},"strokeOpacity":{"value":1}}}}}}}},
{"data":{"name":"s11"},"mark":{"type":"circle","size":30,"opacity":1},"encoding":{"x":{"field":"dose","type":"quantitative","title":"Dose","scale":{"domain":[-0.5,10.5],"nice":false,"zero":false},"axis":{"values":[0,2,4,6,8,10],"format":"d"}},"y":{"field":"util","type":"quantitative","title":"Utility","scale":{"domain":[-0.1,0.2],"nice":false,"zero":false},"axis":{"values":[-0.1,-0.05,0,0.05,0.1,0.15,0.2],"format":".2f"}},"color":{"datum":"Predicted Optimal Doses","type":"nominal"}}},
{"data":{"name":"m11"},"mark":{"type":"circle","size":30,"opacity":1},"encoding":{"x":{"field":"dose","type":"quantitative","title":"Dose","scale":{"domain":[-0.5,10.5],"nice":false,"zero":false},"axis":{"values":[0,2,4,6,8,10],"format":"d"}},"y":{"field":"util","type":"quantitative","title":"Utility","scale":{"domain":[-0.1,0.2],"nice":false,"zero":false},"axis":{"values":[-0.1,-0.05,0,0.05,0.1,0.15,0.2],"format":".2f"}},"color":{"datum":"Mean of Predicted Optimal Doses","type":"nominal"}}},
{"data":{"name":"one"},"mark":{"type":"rule","color":"#000000","strokeWidth":3,"clip":false},"encoding":{"x":{"datum":-2.75,"type":"quantitative","title":"Dose","scale":{"domain":[-0.5,10.5],"nice":false,"zero":false},"axis":{"values":[0,2,4,6,8,10],"format":"d"}},"y":{"datum":0.2666,"type":"quantitative","title":"Utility","scale":{"domain":[-0.1,0.2],"nice":false,"zero":false},"axis":{"values":[-0.1,-0.05,0,0.05,0.1,0.15,0.2],"format":".2f"}},"y2":{"datum":-0.163}}},
{"data":{"name":"one"},"mark":{"type":"rule","color":"#000000","strokeWidth":3,"clip":false},"encoding":{"x":{"datum":-2.75,"type":"quantitative","title":"Dose","scale":{"domain":[-0.5,10.5],"nice":false,"zero":false},"axis":{"values":[0,2,4,6,8,10],"format":"d"}},"x2":{"datum":12.29},"y":{"datum":0.2666,"type":"quantitative","title":"Utility","scale":{"domain":[-0.1,0.2],"nice":false,"zero":false},"axis":{"values":[-0.1,-0.05,0,0.05,0.1,0.15,0.2],"format":".2f"}}}}
]},
{"title":{"text":["Predicted optimal doses for","Peaking 1: Saturating, Fully Continual, Standard"]},"width":302,"height":223,"layer":[
{"data":{"name":"curve"},"mark":{"type":"line","interpolate":"monotone","strokeWidth":1.3},"encoding":{"x":{"field":"dose","type":"quantitative","title":"Dose","scale":{"domain":[-0.5,10.5],"nice":false,"zero":false},"axis":{"values":[0,2,4,6,8,10],"format":"d"}},"y":{"field":"util","type":"quantitative","title":"Utility","scale":{"domain":[-0.1,0.2],"nice":false,"zero":false},"axis":{"values":[-0.1,-0.05,0,0.05,0.1,0.15,0.2],"format":".2f"}},"color":{"datum":"True Utility","type":"nominal","scale":{"domain":["True Utility","Predicted Optimal Doses","Mean of Predicted Optimal Doses"],"range":["#1f77b4","#ff0000","#ffa500"]},"legend":{"title":null,"encode":{"symbols":{"update":{"shape":{"signal":"datum.value === 'True Utility' ? 'M-1.45,0L1.45,0' : 'circle'"},"size":{"signal":"datum.value === 'True Utility' ? 144 : 30"},"fill":{"signal":"datum.value === 'True Utility' ? 'transparent' : datum.value === 'Predicted Optimal Doses' ? '#ff0000' : '#ffa500'"},"stroke":{"signal":"datum.value === 'True Utility' ? '#1f77b4' : 'transparent'"},"strokeWidth":{"value":1.5},"opacity":{"value":1},"fillOpacity":{"value":1},"strokeOpacity":{"value":1}}}}}}}},
{"data":{"name":"s10"},"mark":{"type":"circle","size":30,"opacity":1},"encoding":{"x":{"field":"dose","type":"quantitative","title":"Dose","scale":{"domain":[-0.5,10.5],"nice":false,"zero":false},"axis":{"values":[0,2,4,6,8,10],"format":"d"}},"y":{"field":"util","type":"quantitative","title":"Utility","scale":{"domain":[-0.1,0.2],"nice":false,"zero":false},"axis":{"values":[-0.1,-0.05,0,0.05,0.1,0.15,0.2],"format":".2f"}},"color":{"datum":"Predicted Optimal Doses","type":"nominal"}}},
{"data":{"name":"m10"},"mark":{"type":"circle","size":30,"opacity":1},"encoding":{"x":{"field":"dose","type":"quantitative","title":"Dose","scale":{"domain":[-0.5,10.5],"nice":false,"zero":false},"axis":{"values":[0,2,4,6,8,10],"format":"d"}},"y":{"field":"util","type":"quantitative","title":"Utility","scale":{"domain":[-0.1,0.2],"nice":false,"zero":false},"axis":{"values":[-0.1,-0.05,0,0.05,0.1,0.15,0.2],"format":".2f"}},"color":{"datum":"Mean of Predicted Optimal Doses","type":"nominal"}}},
{"data":{"name":"one"},"mark":{"type":"rule","color":"#000000","strokeWidth":3,"clip":false},"encoding":{"x":{"datum":-2.75,"type":"quantitative","title":"Dose","scale":{"domain":[-0.5,10.5],"nice":false,"zero":false},"axis":{"values":[0,2,4,6,8,10],"format":"d"}},"y":{"datum":0.2666,"type":"quantitative","title":"Utility","scale":{"domain":[-0.1,0.2],"nice":false,"zero":false},"axis":{"values":[-0.1,-0.05,0,0.05,0.1,0.15,0.2],"format":".2f"}},"y2":{"datum":-0.163}}},
{"data":{"name":"one"},"mark":{"type":"rule","color":"#000000","strokeWidth":3,"clip":false},"encoding":{"x":{"datum":-2.75,"type":"quantitative","title":"Dose","scale":{"domain":[-0.5,10.5],"nice":false,"zero":false},"axis":{"values":[0,2,4,6,8,10],"format":"d"}},"x2":{"datum":12.29},"y":{"datum":0.2666,"type":"quantitative","title":"Utility","scale":{"domain":[-0.1,0.2],"nice":false,"zero":false},"axis":{"values":[-0.1,-0.05,0,0.05,0.1,0.15,0.2],"format":".2f"}}}}
]},
{"title":{"text":["Predicted optimal doses for","Peaking 1: Saturating, Fully Continual, Balanced"]},"width":302,"height":223,"layer":[
{"data":{"name":"curve"},"mark":{"type":"line","interpolate":"monotone","strokeWidth":1.3},"encoding":{"x":{"field":"dose","type":"quantitative","title":"Dose","scale":{"domain":[-0.5,10.5],"nice":false,"zero":false},"axis":{"values":[0,2,4,6,8,10],"format":"d"}},"y":{"field":"util","type":"quantitative","title":"Utility","scale":{"domain":[-0.1,0.2],"nice":false,"zero":false},"axis":{"values":[-0.1,-0.05,0,0.05,0.1,0.15,0.2],"format":".2f"}},"color":{"datum":"True Utility","type":"nominal","scale":{"domain":["True Utility","Predicted Optimal Doses","Mean of Predicted Optimal Doses"],"range":["#1f77b4","#ff0000","#ffa500"]},"legend":{"title":null,"encode":{"symbols":{"update":{"shape":{"signal":"datum.value === 'True Utility' ? 'M-1.45,0L1.45,0' : 'circle'"},"size":{"signal":"datum.value === 'True Utility' ? 144 : 30"},"fill":{"signal":"datum.value === 'True Utility' ? 'transparent' : datum.value === 'Predicted Optimal Doses' ? '#ff0000' : '#ffa500'"},"stroke":{"signal":"datum.value === 'True Utility' ? '#1f77b4' : 'transparent'"},"strokeWidth":{"value":1.5},"opacity":{"value":1},"fillOpacity":{"value":1},"strokeOpacity":{"value":1}}}}}}}},
{"data":{"name":"s13"},"mark":{"type":"circle","size":30,"opacity":1},"encoding":{"x":{"field":"dose","type":"quantitative","title":"Dose","scale":{"domain":[-0.5,10.5],"nice":false,"zero":false},"axis":{"values":[0,2,4,6,8,10],"format":"d"}},"y":{"field":"util","type":"quantitative","title":"Utility","scale":{"domain":[-0.1,0.2],"nice":false,"zero":false},"axis":{"values":[-0.1,-0.05,0,0.05,0.1,0.15,0.2],"format":".2f"}},"color":{"datum":"Predicted Optimal Doses","type":"nominal"}}},
{"data":{"name":"m13"},"mark":{"type":"circle","size":30,"opacity":1},"encoding":{"x":{"field":"dose","type":"quantitative","title":"Dose","scale":{"domain":[-0.5,10.5],"nice":false,"zero":false},"axis":{"values":[0,2,4,6,8,10],"format":"d"}},"y":{"field":"util","type":"quantitative","title":"Utility","scale":{"domain":[-0.1,0.2],"nice":false,"zero":false},"axis":{"values":[-0.1,-0.05,0,0.05,0.1,0.15,0.2],"format":".2f"}},"color":{"datum":"Mean of Predicted Optimal Doses","type":"nominal"}}},
{"data":{"name":"one"},"mark":{"type":"rule","color":"#000000","strokeWidth":3,"clip":false},"encoding":{"x":{"datum":-2.75,"type":"quantitative","title":"Dose","scale":{"domain":[-0.5,10.5],"nice":false,"zero":false},"axis":{"values":[0,2,4,6,8,10],"format":"d"}},"y":{"datum":0.2666,"type":"quantitative","title":"Utility","scale":{"domain":[-0.1,0.2],"nice":false,"zero":false},"axis":{"values":[-0.1,-0.05,0,0.05,0.1,0.15,0.2],"format":".2f"}},"y2":{"datum":-0.1545}}},
{"data":{"name":"one"},"mark":{"type":"rule","color":"#000000","strokeWidth":3,"clip":false},"encoding":{"x":{"datum":-2.75,"type":"quantitative","title":"Dose","scale":{"domain":[-0.5,10.5],"nice":false,"zero":false},"axis":{"values":[0,2,4,6,8,10],"format":"d"}},"x2":{"datum":12.29},"y":{"datum":0.2666,"type":"quantitative","title":"Utility","scale":{"domain":[-0.1,0.2],"nice":false,"zero":false},"axis":{"values":[-0.1,-0.05,0,0.05,0.1,0.15,0.2],"format":".2f"}}}}
]},
{"title":{"text":["Predicted optimal doses for","Peaking 1: Peaking, Fully Continual, Balanced"]},"width":302,"height":223,"layer":[
{"data":{"name":"curve"},"mark":{"type":"line","interpolate":"monotone","strokeWidth":1.3},"encoding":{"x":{"field":"dose","type":"quantitative","title":"Dose","scale":{"domain":[-0.5,10.5],"nice":false,"zero":false},"axis":{"values":[0,2,4,6,8,10],"format":"d"}},"y":{"field":"util","type":"quantitative","title":"Utility","scale":{"domain":[-0.1,0.2],"nice":false,"zero":false},"axis":{"values":[-0.1,-0.05,0,0.05,0.1,0.15,0.2],"format":".2f"}},"color":{"datum":"True Utility","type":"nominal","scale":{"domain":["True Utility","Predicted Optimal Doses","Mean of Predicted Optimal Doses"],"range":["#1f77b4","#ff0000","#ffa500"]},"legend":{"title":null,"encode":{"symbols":{"update":{"shape":{"signal":"datum.value === 'True Utility' ? 'M-1.45,0L1.45,0' : 'circle'"},"size":{"signal":"datum.value === 'True Utility' ? 144 : 30"},"fill":{"signal":"datum.value === 'True Utility' ? 'transparent' : datum.value === 'Predicted Optimal Doses' ? '#ff0000' : '#ffa500'"},"stroke":{"signal":"datum.value === 'True Utility' ? '#1f77b4' : 'transparent'"},"strokeWidth":{"value":1.5},"opacity":{"value":1},"fillOpacity":{"value":1},"strokeOpacity":{"value":1}}}}}}}},
{"data":{"name":"s14"},"mark":{"type":"circle","size":30,"opacity":1},"encoding":{"x":{"field":"dose","type":"quantitative","title":"Dose","scale":{"domain":[-0.5,10.5],"nice":false,"zero":false},"axis":{"values":[0,2,4,6,8,10],"format":"d"}},"y":{"field":"util","type":"quantitative","title":"Utility","scale":{"domain":[-0.1,0.2],"nice":false,"zero":false},"axis":{"values":[-0.1,-0.05,0,0.05,0.1,0.15,0.2],"format":".2f"}},"color":{"datum":"Predicted Optimal Doses","type":"nominal"}}},
{"data":{"name":"m14"},"mark":{"type":"circle","size":30,"opacity":1},"encoding":{"x":{"field":"dose","type":"quantitative","title":"Dose","scale":{"domain":[-0.5,10.5],"nice":false,"zero":false},"axis":{"values":[0,2,4,6,8,10],"format":"d"}},"y":{"field":"util","type":"quantitative","title":"Utility","scale":{"domain":[-0.1,0.2],"nice":false,"zero":false},"axis":{"values":[-0.1,-0.05,0,0.05,0.1,0.15,0.2],"format":".2f"}},"color":{"datum":"Mean of Predicted Optimal Doses","type":"nominal"}}},
{"data":{"name":"one"},"mark":{"type":"rule","color":"#000000","strokeWidth":3,"clip":false},"encoding":{"x":{"datum":-2.75,"type":"quantitative","title":"Dose","scale":{"domain":[-0.5,10.5],"nice":false,"zero":false},"axis":{"values":[0,2,4,6,8,10],"format":"d"}},"y":{"datum":0.2666,"type":"quantitative","title":"Utility","scale":{"domain":[-0.1,0.2],"nice":false,"zero":false},"axis":{"values":[-0.1,-0.05,0,0.05,0.1,0.15,0.2],"format":".2f"}},"y2":{"datum":-0.1545}}},
{"data":{"name":"one"},"mark":{"type":"rule","color":"#000000","strokeWidth":3,"clip":false},"encoding":{"x":{"datum":-2.75,"type":"quantitative","title":"Dose","scale":{"domain":[-0.5,10.5],"nice":false,"zero":false},"axis":{"values":[0,2,4,6,8,10],"format":"d"}},"x2":{"datum":12.29},"y":{"datum":0.2666,"type":"quantitative","title":"Utility","scale":{"domain":[-0.1,0.2],"nice":false,"zero":false},"axis":{"values":[-0.1,-0.05,0,0.05,0.1,0.15,0.2],"format":".2f"}}}}
]},
{"title":{"text":["Predicted optimal doses for","Peaking 1: Saturating, Fully Continual, Balanced"]},"width":302,"height":223,"layer":[
{"data":{"name":"curve"},"mark":{"type":"line","interpolate":"monotone","strokeWidth":1.3},"encoding":{"x":{"field":"dose","type":"quantitative","title":"Dose","scale":{"domain":[-0.5,10.5],"nice":false,"zero":false},"axis":{"values":[0,2,4,6,8,10],"format":"d"}},"y":{"field":"util","type":"quantitative","title":"Utility","scale":{"domain":[-0.1,0.2],"nice":false,"zero":false},"axis":{"values":[-0.1,-0.05,0,0.05,0.1,0.15,0.2],"format":".2f"}},"color":{"datum":"True Utility","type":"nominal","scale":{"domain":["True Utility","Predicted Optimal Doses","Mean of Predicted Optimal Doses"],"range":["#1f77b4","#ff0000","#ffa500"]},"legend":{"title":null,"encode":{"symbols":{"update":{"shape":{"signal":"datum.value === 'True Utility' ? 'M-1.45,0L1.45,0' : 'circle'"},"size":{"signal":"datum.value === 'True Utility' ? 144 : 30"},"fill":{"signal":"datum.value === 'True Utility' ? 'transparent' : datum.value === 'Predicted Optimal Doses' ? '#ff0000' : '#ffa500'"},"stroke":{"signal":"datum.value === 'True Utility' ? '#1f77b4' : 'transparent'"},"strokeWidth":{"value":1.5},"opacity":{"value":1},"fillOpacity":{"value":1},"strokeOpacity":{"value":1}}}}}}}},
{"data":{"name":"s13"},"mark":{"type":"circle","size":30,"opacity":1},"encoding":{"x":{"field":"dose","type":"quantitative","title":"Dose","scale":{"domain":[-0.5,10.5],"nice":false,"zero":false},"axis":{"values":[0,2,4,6,8,10],"format":"d"}},"y":{"field":"util","type":"quantitative","title":"Utility","scale":{"domain":[-0.1,0.2],"nice":false,"zero":false},"axis":{"values":[-0.1,-0.05,0,0.05,0.1,0.15,0.2],"format":".2f"}},"color":{"datum":"Predicted Optimal Doses","type":"nominal"}}},
{"data":{"name":"m13"},"mark":{"type":"circle","size":30,"opacity":1},"encoding":{"x":{"field":"dose","type":"quantitative","title":"Dose","scale":{"domain":[-0.5,10.5],"nice":false,"zero":false},"axis":{"values":[0,2,4,6,8,10],"format":"d"}},"y":{"field":"util","type":"quantitative","title":"Utility","scale":{"domain":[-0.1,0.2],"nice":false,"zero":false},"axis":{"values":[-0.1,-0.05,0,0.05,0.1,0.15,0.2],"format":".2f"}},"color":{"datum":"Mean of Predicted Optimal Doses","type":"nominal"}}},
{"data":{"name":"one"},"mark":{"type":"rule","color":"#000000","strokeWidth":3,"clip":false},"encoding":{"x":{"datum":-2.75,"type":"quantitative","title":"Dose","scale":{"domain":[-0.5,10.5],"nice":false,"zero":false},"axis":{"values":[0,2,4,6,8,10],"format":"d"}},"y":{"datum":0.2666,"type":"quantitative","title":"Utility","scale":{"domain":[-0.1,0.2],"nice":false,"zero":false},"axis":{"values":[-0.1,-0.05,0,0.05,0.1,0.15,0.2],"format":".2f"}},"y2":{"datum":-0.1545}}},
{"data":{"name":"one"},"mark":{"type":"rule","color":"#000000","strokeWidth":3,"clip":false},"encoding":{"x":{"datum":-2.75,"type":"quantitative","title":"Dose","scale":{"domain":[-0.5,10.5],"nice":false,"zero":false},"axis":{"values":[0,2,4,6,8,10],"format":"d"}},"x2":{"datum":12.29},"y":{"datum":0.2666,"type":"quantitative","title":"Utility","scale":{"domain":[-0.1,0.2],"nice":false,"zero":false},"axis":{"values":[-0.1,-0.05,0,0.05,0.1,0.15,0.2],"format":".2f"}}}}
]}
],
"config": {
"font": "DejaVu Sans",
"view": {"stroke": "#777777", "strokeWidth": 1},
"axis": {"labelFont": "DejaVu Sans", "labelFontSize": 8.3, "labelColor": "#222222", "labelOverlap": false, "titleFont": "DejaVu Sans", "titleFontSize": 8.4, "titleFontWeight": "normal", "titleColor": "#222222", "tickColor": "#777777", "tickSize": 3, "tickWidth": 0.9, "domainColor": "#777777", "domainWidth": 1, "grid": false, "labelPadding": 2.5, "titlePadding": 3},
"axisY": {"titlePadding": 4},
"title": {"font": "DejaVu Sans", "fontSize": 10.2, "fontWeight": "normal", "color": "#222222", "anchor": "middle", "frame": "group", "offset": -1, "dy": 46.5, "lineHeight": 11},
"legend": {"orient": "top-right", "offset": 4.5, "padding": 1.5, "labelFont": "DejaVu Sans", "labelFontSize": 8.4, "labelColor": "#222222", "labelLimit": 300, "symbolSize": 144, "symbolStrokeWidth": 1.5, "symbolOffset": 4.25, "labelOffset": 13, "rowPadding": 1.5, "strokeColor": "#cccccc", "fillColor": "rgba(255,255,255,0.8)", "cornerRadius": 3}
}
}
